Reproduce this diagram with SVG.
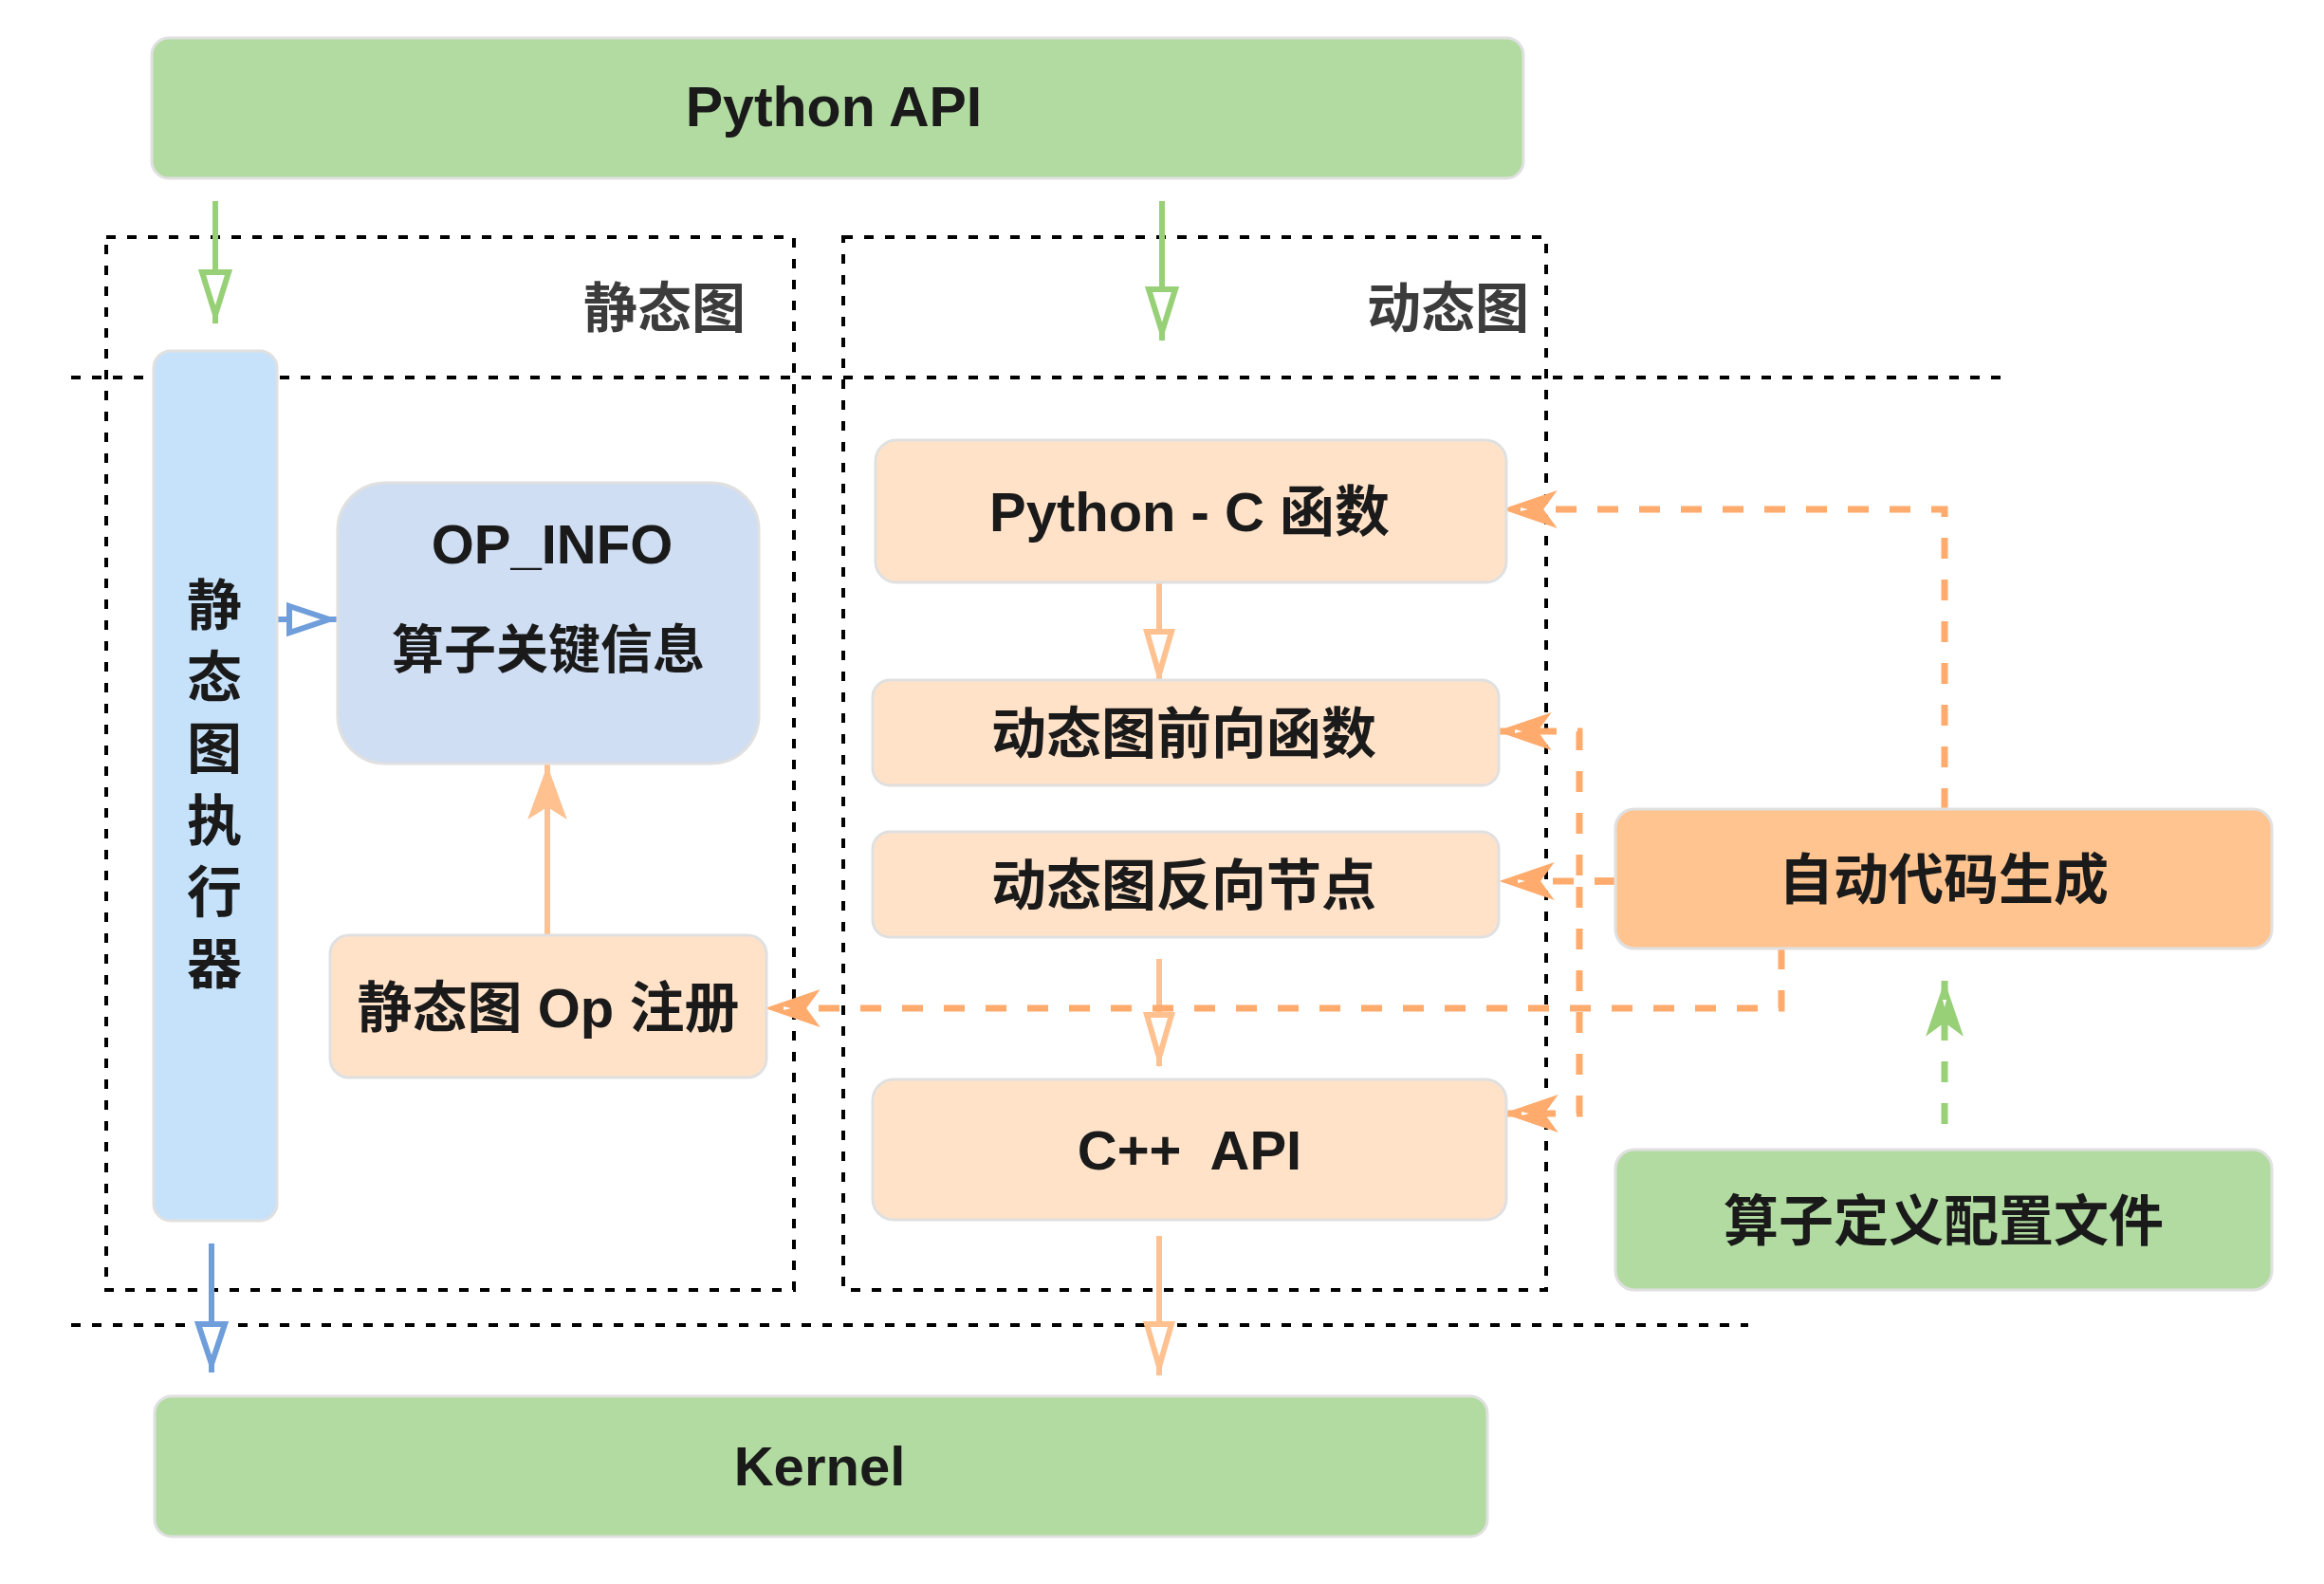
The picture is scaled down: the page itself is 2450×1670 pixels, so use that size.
<svg xmlns="http://www.w3.org/2000/svg" width="2450" height="1670" viewBox="0 0 2450 1670">
  <defs>
    <style>
      .node { stroke: #e0e0e0; stroke-width: 3; }
      .green { fill: #b2dba1; }
      .peach { fill: #ffe2c8; }
      .orange { fill: #ffc490; }
      .blue { fill: #c6e2fb; }
      .steel { fill: #cfdef3; }
      .t { font-family: "Liberation Sans", "Noto Sans CJK SC", sans-serif; font-weight: bold; font-size: 58px; fill: #1a1a1a; text-anchor: middle; }
      .lbl { font-family: "Noto Sans CJK SC", "Liberation Sans", sans-serif; font-weight: bold; font-size: 57px; fill: #3c3c3c; text-anchor: end; }
      .frame { fill: none; stroke: #000; stroke-width: 4; stroke-dasharray: 10 12; }
      .sep { fill: none; stroke: #000; stroke-width: 4; stroke-dasharray: 10 12; }
      .c-green { fill: none; stroke: #97d077; stroke-width: 6; }
      .c-blue { fill: none; stroke: #6f9edb; stroke-width: 6; }
      .c-orange { fill: none; stroke: #ffc18f; stroke-width: 6; }
      .c-dash { fill: none; stroke: #ffab6d; stroke-width: 7; stroke-dasharray: 22 22; }
      .c-gdash { fill: none; stroke: #97d077; stroke-width: 7; stroke-dasharray: 22 22; }
    </style>
    <marker id="blockGreen" markerUnits="userSpaceOnUse" viewBox="-60 -25 80 50" refX="9" refY="0" markerWidth="80" markerHeight="50" orient="auto" overflow="visible">
      <path d="M-45,-14 L0,0 L-45,14 Z" fill="#fff" stroke="#97d077" stroke-width="6"/>
    </marker>
    <marker id="blockBlue" markerUnits="userSpaceOnUse" viewBox="-60 -25 80 50" refX="9" refY="0" markerWidth="80" markerHeight="50" orient="auto" overflow="visible">
      <path d="M-42,-14 L0,0 L-42,14 Z" fill="#fff" stroke="#6f9edb" stroke-width="6"/>
    </marker>
    <marker id="blockOrange" markerUnits="userSpaceOnUse" viewBox="-60 -25 80 50" refX="9" refY="0" markerWidth="80" markerHeight="50" orient="auto" overflow="visible">
      <path d="M-45,-13 L0,0 L-45,13 Z" fill="#fff" stroke="#ffc18f" stroke-width="6"/>
    </marker>
    <marker id="classicOrangeFill" markerUnits="userSpaceOnUse" viewBox="-60 -25 80 50" refX="8" refY="0" markerWidth="80" markerHeight="50" orient="auto" overflow="visible">
      <path d="M0,0 L-44,-16 L-34,0 L-44,16 Z" fill="#ffc18f" stroke="#ffc18f" stroke-width="5"/>
    </marker>
    <marker id="classicDash" markerUnits="userSpaceOnUse" viewBox="-60 -25 80 50" refX="8" refY="0" markerWidth="80" markerHeight="50" orient="auto" overflow="visible">
      <path d="M0,0 L-44,-15 L-33,0 L-44,15 Z" fill="#ffab6d" stroke="#ffab6d" stroke-width="5"/>
      <path d="M-20,0 L-12,-2 L-12,2 Z" fill="#fff"/>
    </marker>
    <marker id="classicGreen" markerUnits="userSpaceOnUse" viewBox="-60 -25 80 50" refX="8" refY="0" markerWidth="80" markerHeight="50" orient="auto" overflow="visible">
      <path d="M0,0 L-44,-15 L-33,0 L-44,15 Z" fill="#97d077" stroke="#97d077" stroke-width="5"/>
      <path d="M-20,0 L-12,-2 L-12,2 Z" fill="#fff"/>
    </marker>
  </defs>

  <rect width="2450" height="1670" fill="#ffffff"/>

  <!-- frames and separators -->
  <g id="frames">
    <rect class="frame" x="112" y="250" width="725" height="1110"/>
    <rect class="frame" x="889" y="250" width="741" height="1110"/>
    <line class="sep" x1="75" y1="398" x2="2110" y2="398"/>
    <line class="sep" x1="75" y1="1397" x2="1843" y2="1397"/>
    <text class="lbl" x="786" y="345">静态图</text>
    <text class="lbl" x="1612" y="345">动态图</text>
  </g>

  <!-- connectors -->
  <g id="connectors">
    <path class="c-green" d="M227,212 V341" marker-end="url(#blockGreen)"/>
    <path class="c-green" d="M1225,212 V359" marker-end="url(#blockGreen)"/>
    <path class="c-blue" d="M292,653 H356" marker-end="url(#blockBlue)"/>
    <path class="c-blue" d="M223,1311 V1447" marker-end="url(#blockBlue)"/>
    <path class="c-orange" d="M1222,614 V720" marker-end="url(#blockOrange)"/>
    <path class="c-orange" d="M1222,1011 V1124" marker-end="url(#blockOrange)"/>
    <path class="c-orange" d="M1222,1303 V1450" marker-end="url(#blockOrange)"/>
    <path class="c-orange" d="M577,986 V806" marker-end="url(#classicOrangeFill)"/>
    <path class="c-dash" d="M2050,853 V537 H1583" marker-end="url(#classicDash)"/>
    <path class="c-dash" d="M1703,929 H1580" marker-end="url(#classicDash)"/>
    <path class="c-dash" d="M1703,929 H1665 V771 H1577" marker-end="url(#classicDash)"/>
    <path class="c-dash" d="M1703,929 H1665 V1174 H1584" marker-end="url(#classicDash)"/>
    <path class="c-dash" d="M1878,1000 V1063 H806" marker-end="url(#classicDash)"/>
    <path class="c-gdash" d="M2050,1185 V1034" marker-end="url(#classicGreen)"/>
  </g>

  <!-- nodes -->
  <g id="python-api">
    <rect class="node green" x="160" y="40" width="1446" height="148" rx="18"/>
    <text class="t" x="879" y="133" style="font-size:59px">Python API</text>
  </g>
  <g id="static-executor">
    <rect class="node blue" x="162" y="370" width="130" height="917" rx="18"/>
    <text class="t" x="226" y="659">静</text>
    <text class="t" x="226" y="735">态</text>
    <text class="t" x="226" y="810">图</text>
    <text class="t" x="226" y="886">执</text>
    <text class="t" x="226" y="961">行</text>
    <text class="t" x="226" y="1037">器</text>
  </g>
  <g id="op-info">
    <rect class="node steel" x="356" y="509" width="444" height="296" rx="50"/>
    <text class="t" x="582" y="594">OP_INFO</text>
    <text class="t" x="578" y="704" style="font-size:55px">算子关键信息</text>
  </g>
  <g id="static-op-register">
    <rect class="node peach" x="348" y="986" width="460" height="150" rx="20"/>
    <text class="t" x="578" y="1083">静态图 Op 注册</text>
  </g>
  <g id="python-c">
    <rect class="node peach" x="923" y="464" width="665" height="150" rx="22"/>
    <text class="t" x="1254" y="560">Python - C 函数</text>
  </g>
  <g id="dyn-forward">
    <rect class="node peach" x="920" y="717" width="660" height="111" rx="18"/>
    <text class="t" x="1248" y="794">动态图前向函数</text>
  </g>
  <g id="dyn-backward">
    <rect class="node peach" x="920" y="877" width="660" height="111" rx="18"/>
    <text class="t" x="1248" y="954">动态图反向节点</text>
  </g>
  <g id="cpp-api">
    <rect class="node peach" x="920" y="1138" width="668" height="148" rx="22"/>
    <text class="t" x="1254" y="1233" xml:space="preserve">C++  API</text>
  </g>
  <g id="kernel">
    <rect class="node green" x="163" y="1472" width="1405" height="148" rx="18"/>
    <text class="t" x="864" y="1566">Kernel</text>
  </g>
  <g id="auto-codegen">
    <rect class="node orange" x="1703" y="853" width="692" height="147" rx="20"/>
    <text class="t" x="2049" y="948">自动代码生成</text>
  </g>
  <g id="op-config">
    <rect class="node green" x="1703" y="1212" width="692" height="148" rx="20"/>
    <text class="t" x="2049" y="1308">算子定义配置文件</text>
  </g>
</svg>
